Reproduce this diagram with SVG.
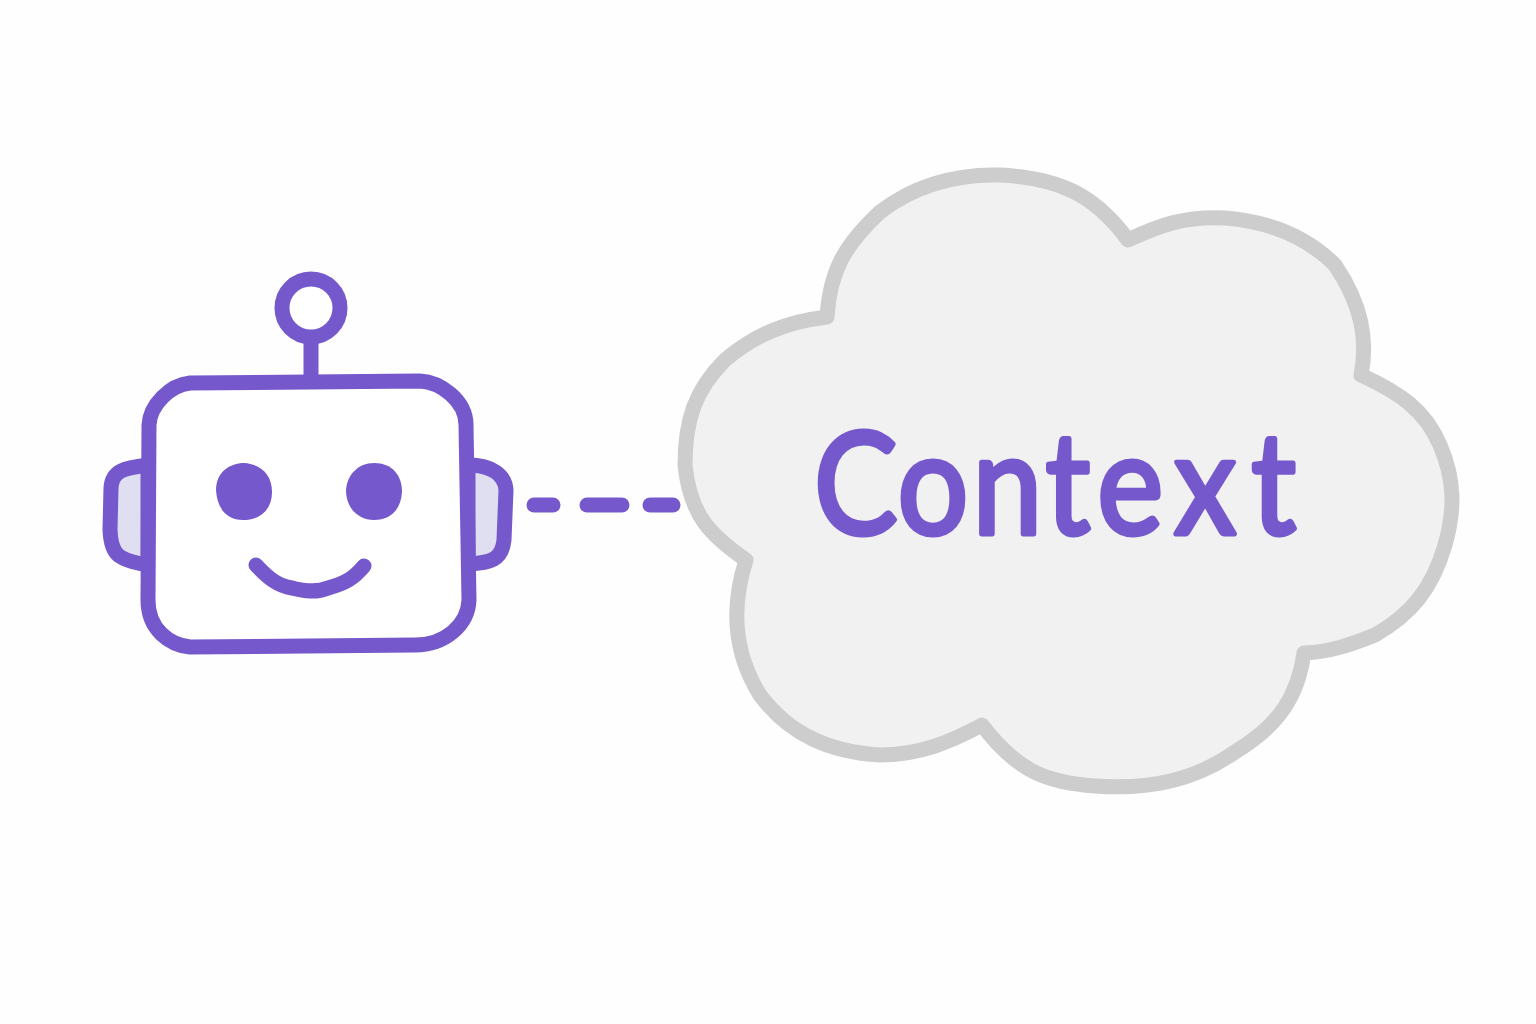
<svg xmlns="http://www.w3.org/2000/svg" width="1536" height="1024" viewBox="0 0 1536 1024">
<style>
.p{stroke:#7558cc;stroke-width:15;stroke-linecap:round;stroke-linejoin:round}
.t{font-family:Lato,"Noto Sans",sans-serif;font-size:142px;fill:#7558cc;stroke:#7558cc;stroke-width:5;stroke-linejoin:round}
</style>
<rect width="1536" height="1024" fill="#fefefe"/>
<g id="robot">
<path class="p" fill="#e0dff1" d="M148 465C125 468 112 470 111 488L110 530C111 555 118 560 148 565Z"/>
<path class="p" fill="#e0dff1" d="M468 465C492 465 505 475 506 490L504 540C502 560 490 563 468 564Z"/>
<path class="p" fill="none" d="M311 340V380"/>
<circle class="p" cx="311" cy="308" r="29" fill="#fff"/>
<path class="p" fill="#fff" d="M190 383L420 381C440 382 466 400 466 425L469 600C468 625 445 645 415 645L190 647C170 645 148 630 148 600L149 425C150 405 170 385 190 383Z"/>
<path fill="#7558cc" d="M216 490C216 472 230 463 244 463C260 464 272 474 272 492C272 510 260 520 243 520C226 520 217 508 216 490Z"/>
<path fill="#7558cc" d="M346 490C347 475 358 463 374 463C392 463 402 475 402 492C401 510 390 520 374 520C358 520 346 508 346 490Z"/>
<path class="p" fill="none" stroke-width="14" d="M256 565C268 578 278 586 292 588C304 591 316 593 328 588C346 583 354 578 364 566"/>
</g>
<g id="connectors" class="p">
<path d="M534 505H553"/><path d="M587 505H622"/><path d="M650 505H673"/>
</g>
<g id="context">
<path fill="#f1f1f1" stroke="#cdcdcd" stroke-width="15" stroke-linejoin="round" d="M827 317C830 270 845 245 880 212C915 185 955 174 1000 175C1060 178 1095 195 1128 240C1160 225 1185 216 1225 218C1275 222 1310 240 1335 265C1362 305 1368 340 1361 375C1400 393 1425 410 1440 445C1455 480 1455 510 1445 545C1432 590 1410 615 1375 635C1350 645 1330 652 1304 653C1298 695 1280 725 1235 752C1195 780 1150 790 1095 786C1050 782 1020 775 982 725C950 742 920 755 880 755C830 752 790 735 760 695C735 655 730 610 746 560C710 535 690 515 685 465C685 420 695 390 725 360C755 335 785 322 827 317Z"/>
<text class="t" y="534" transform="scale(.88 1)" x="925 1020 1105 1188 1247 1334 1422">Context</text>
</g>
</svg>
